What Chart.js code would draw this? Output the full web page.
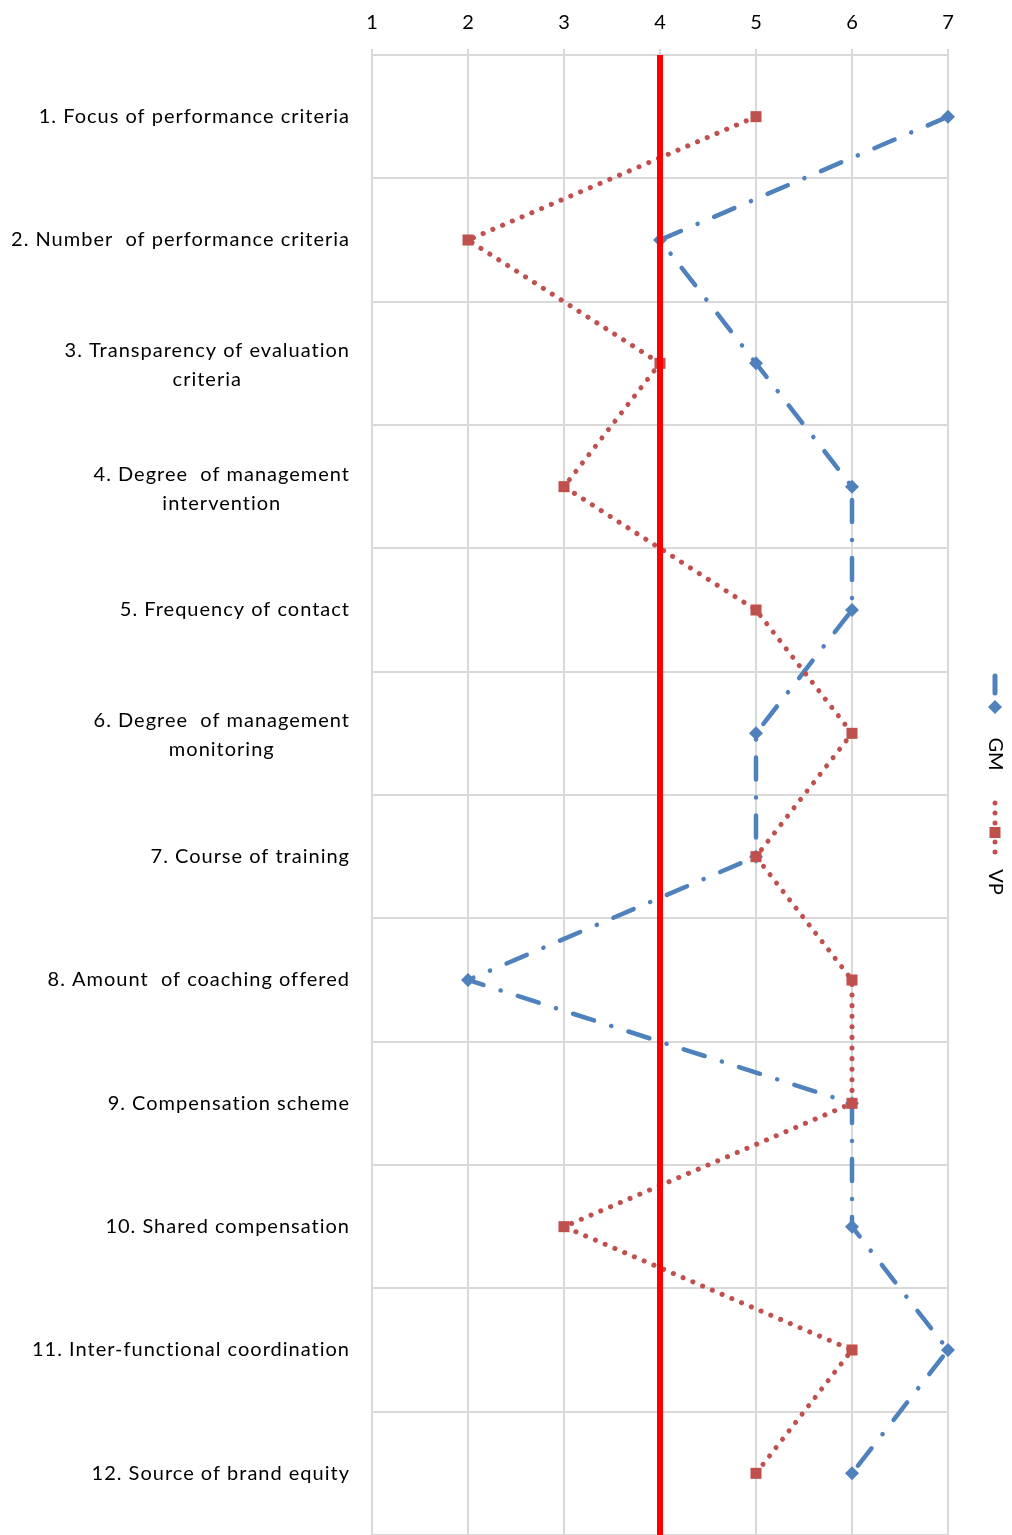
<!DOCTYPE html>
<html>
<head>
<meta charset="utf-8">
<script src="https://cdn.jsdelivr.net/npm/chart.js@4.4.1/dist/chart.umd.min.js"></script>
<style>
  html, body { margin: 0; padding: 0; background: #fff; }
  canvas { display: block; }
</style>
</head>
<body>
<canvas id="gapChart" width="1012" height="1535"></canvas>
<script>
// category labels (one inner array per row, one string per text line)
const categories = [
  ['1. Focus of performance criteria'],
  ['2. Number  of performance criteria'],
  ['3. Transparency of evaluation', 'criteria'],
  ['4. Degree  of management', 'intervention'],
  ['5. Frequency of contact'],
  ['6. Degree  of management', 'monitoring'],
  ['7. Course of training'],
  ['8. Amount  of coaching offered'],
  ['9. Compensation scheme'],
  ['10. Shared compensation'],
  ['11. Inter-functional coordination'],
  ['12. Source of brand equity']
];
const gmValues = [7, 4, 5, 6, 6, 5, 5, 2, 6, 6, 7, 6];
const vpValues = [5, 2, 4, 3, 5, 6, 5, 6, 6, 3, 6, 5];
const xTicks = [1, 2, 3, 4, 5, 6, 7];
const refValue = 4;

const GM_COLOR = '#4F81BD';
const VP_COLOR = '#C0504D';
const LABEL_FONT = '20px Lato';

// red reference line at x = 4
const refLine = {
  id: 'refLine',
  afterDatasetsDraw(chart) {
    const ctx = chart.ctx, area = chart.chartArea;
    const x = chart.scales.x.getPixelForValue(refValue);
    ctx.save();
    ctx.strokeStyle = '#FF0000';
    ctx.lineWidth = 6;
    ctx.beginPath();
    ctx.moveTo(x, area.top);
    ctx.lineTo(x, chart.height);
    ctx.stroke();
    ctx.restore();
  }
};

// category text: right aligned block, lines centred in the block
const rowLabels = {
  id: 'rowLabels',
  afterDraw(chart) {
    const ctx = chart.ctx;
    const yScale = chart.scales.y;
    ctx.save();
    ctx.font = LABEL_FONT;
    ctx.letterSpacing = '1px';
    ctx.fillStyle = '#000';
    ctx.textAlign = 'center';
    ctx.textBaseline = 'middle';
    const right = 350, lh = 29;
    categories.forEach((lines, i) => {
      const y = yScale.getPixelForValue(i) + (lines.length > 1 ? 2 : 0);
      const w = Math.max(...lines.map(l => ctx.measureText(l).width));
      const cx = right - w / 2;
      lines.forEach((l, j) => {
        ctx.fillText(l, cx, y + (j - (lines.length - 1) / 2) * lh);
      });
    });
    ctx.restore();
  }
};

// vertical legend on the right, text turned 90 degrees
const sideLegend = {
  id: 'sideLegend',
  afterDraw(chart) {
    const ctx = chart.ctx;
    const x = 995;
    ctx.save();
    // GM
    ctx.strokeStyle = GM_COLOR;
    ctx.lineWidth = 5;
    ctx.lineCap = 'round';
    ctx.beginPath();
    ctx.moveTo(x, 676);
    ctx.lineTo(x, 693);
    ctx.stroke();
    ctx.fillStyle = GM_COLOR;
    ctx.beginPath();
    ctx.moveTo(x, 700); ctx.lineTo(x + 7, 707); ctx.lineTo(x, 714); ctx.lineTo(x - 7, 707);
    ctx.closePath();
    ctx.fill();
    // VP
    ctx.fillStyle = VP_COLOR;
    [803, 813, 823, 842, 852].forEach(y => {
      ctx.beginPath(); ctx.arc(x, y, 2.5, 0, Math.PI * 2); ctx.fill();
    });
    ctx.fillRect(x - 5.5, 827, 11, 11);
    // texts
    ctx.fillStyle = '#000';
    ctx.font = '20px Lato';
    ctx.textAlign = 'center';
    ctx.textBaseline = 'middle';
    [['GM', 754], ['VP', 882]].forEach(([t, y]) => {
      ctx.save();
      ctx.translate(x, y);
      ctx.rotate(Math.PI / 2);
      ctx.fillText(t, 0, 0);
      ctx.restore();
    });
    ctx.restore();
  }
};

new Chart(document.getElementById('gapChart'), {
  type: 'line',
  data: {
    labels: categories.map(c => c.join(' ')),
    datasets: [{
      label: 'GM',
      data: gmValues,
      borderColor: GM_COLOR,
      backgroundColor: GM_COLOR,
      borderWidth: 4.5,
      borderDash: [22, 18, 0.1, 18],
      borderCapStyle: 'round',
      pointStyle: 'rectRot',
      pointRadius: 7,
      pointBorderWidth: 0,
      tension: 0,
      clip: false,
      order: 1
    }, {
      label: 'VP',
      data: vpValues,
      borderColor: VP_COLOR,
      backgroundColor: VP_COLOR,
      borderWidth: 5,
      borderDash: [0.1, 10.5],
      borderCapStyle: 'round',
      pointStyle: 'rect',
      pointRadius: 7.8,
      pointBorderWidth: 0,
      tension: 0,
      clip: false,
      order: 0
    }]
  },
  options: {
    indexAxis: 'y',
    responsive: false,
    animation: false,
    layout: { autoPadding: false, padding: { left: 0, right: 64, top: 0, bottom: -8 } },
    plugins: {
      legend: { display: false },
      tooltip: { enabled: false }
    },
    scales: {
      x: {
        type: 'linear',
        position: 'top',
        min: xTicks[0],
        max: xTicks[xTicks.length - 1],
        afterBuildTicks: s => { s.ticks = xTicks.map(v => ({ value: v })); },
        afterFit: s => {
          s.height = 55;
          s.paddingLeft = s.paddingRight = s.paddingTop = s.paddingBottom = 0;
        },
        ticks: { color: '#000', font: { family: 'Lato', size: 20 }, padding: 14 },
        grid: { color: '#d9d9d9', lineWidth: 2, tickLength: 6 },
        border: { color: '#d9d9d9', width: 2 }
      },
      y: {
        type: 'category',
        offset: true,
        afterFit: s => {
          s.width = 372;
          s.paddingLeft = s.paddingRight = s.paddingTop = s.paddingBottom = 0;
        },
        ticks: { display: false },
        grid: { offset: true, color: '#d9d9d9', lineWidth: 2, drawTicks: false },
        border: { display: false }
      }
    }
  },
  plugins: [refLine, rowLabels, sideLegend]
});
</script>
</body>
</html>
